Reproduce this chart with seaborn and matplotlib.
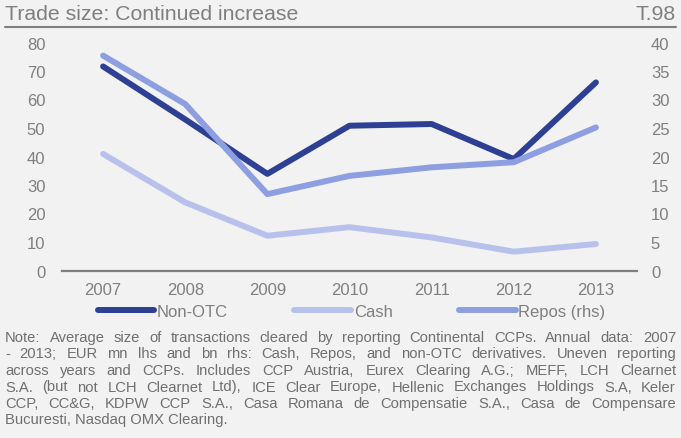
import matplotlib
matplotlib.use("Agg")
import numpy as np
import pandas as pd
import matplotlib.pyplot as plt
from matplotlib.lines import Line2D
import seaborn as sns

# ── Data ──────────────────────────────────────────────────────────────────────
years   = [2007, 2008, 2009, 2010, 2011, 2012, 2013]
non_otc = [71.6, 53.0, 33.9, 50.8, 51.4, 39.1, 66.0]   # lhs, EUR mn
cash    = [40.9, 23.9, 12.2, 15.2, 11.6, 6.6, 9.3]     # lhs, EUR mn
repos   = [37.7, 29.2, 13.4, 16.6, 18.1, 19.0, 25.1]   # rhs, EUR bn

left_ticks  = [0, 10, 20, 30, 40, 50, 60, 70, 80]
right_ticks = [0, 5, 10, 15, 20, 25, 30, 35, 40]

title_txt = "Trade size: Continued increase"
tag_txt   = "T.98"
note_lines = [
    "Note: Average size of transactions cleared  by reporting Continental CCPs. Annual data: 2007",
    "- 2013; EUR mn lhs and bn rhs: Cash, Repos, and non-OTC derivatives. Uneven reporting",
    "across years and CCPs. Includes CCP Austria, Eurex Clearing A.G.; MEFF, LCH Clearnet",
    "S.A. (but not LCH Clearnet Ltd), ICE Clear Europe, Hellenic Exchanges Holdings S.A, Keler",
    "CCP, CC&G, KDPW CCP S.A., Casa Romana de Compensatie S.A., Casa de Compensare",
    "Bucuresti, Nasdaq OMX Clearing.",
]

# ── Style ─────────────────────────────────────────────────────────────────────
BG       = "#f2f2f2"
GREY     = "#7f7f7f"
C_NONOTC = "#2e4094"
C_CASH   = "#b7c1ec"
C_REPOS  = "#8d9fe0"
LW       = 4.3
NARROW   = ["Liberation Sans Narrow", "Liberation Sans", "DejaVu Sans"]

sns.set_theme(style="white")
plt.rcParams["font.family"] = ["Liberation Sans", "DejaVu Sans"]

W, H = 681, 439
fig = plt.figure(figsize=(W / 100, H / 100), dpi=100, facecolor=BG)

# plot area in pixel terms: x 62..637, y(0)=271.5, y(80)=43.5
x0, x1, y0, y1 = 62, 637, 271.5, 43.5
ax = fig.add_axes([x0 / W, 1 - y0 / H, (x1 - x0) / W, (y0 - y1) / H])
ax.set_facecolor(BG)
ax2 = ax.twinx()

line_kw = dict(linewidth=LW, solid_capstyle="round", solid_joinstyle="round")
sns.lineplot(x=years, y=non_otc, ax=ax, color=C_NONOTC, **line_kw)
sns.lineplot(x=years, y=cash, ax=ax, color=C_CASH, **line_kw)
sns.lineplot(x=years, y=repos, ax=ax2, color=C_REPOS, **line_kw)

ax.set_xlim(years[0] - 0.5, years[-1] + 0.5)
ax.set_ylim(0, 80)
ax2.set_ylim(0, 40)
ax.set_xticks(years)
ax.set_xticklabels([str(y) for y in years])
ax.set_yticks(left_ticks)
ax2.set_yticks(right_ticks)
ax.set_xlabel(""); ax.set_ylabel(""); ax2.set_ylabel("")

ax.tick_params(axis="y", length=0, labelsize=12, labelcolor=GREY, pad=12)
ax.tick_params(axis="x", length=0, labelsize=12, labelcolor=GREY, pad=8)
ax2.tick_params(axis="y", length=0, labelsize=12, labelcolor=GREY, pad=10)

for s in ["top", "left", "right"]:
    ax.spines[s].set_visible(False)
for s in ax2.spines.values():
    s.set_visible(False)
ax.spines["bottom"].set_color(GREY)
ax.spines["bottom"].set_linewidth(1.6)
ax.grid(False); ax2.grid(False)

# ── Legend ────────────────────────────────────────────────────────────────────
handles = [
    Line2D([], [], color=C_NONOTC, **line_kw),
    Line2D([], [], color=C_CASH, **line_kw),
    Line2D([], [], color=C_REPOS, **line_kw),
]
fig.legend(handles, ["Non-OTC", "Cash", "Repos (rhs)"], ncol=3,
           loc="center", bbox_to_anchor=(351.5 / W, 1 - 312.7 / H),
           frameon=False, fontsize=12, labelcolor=GREY,
           handlelength=3.4, handletextpad=0.15, columnspacing=4.0)

# ── Title bar ─────────────────────────────────────────────────────────────────
fig.text(5 / W, 1 - 14 / H, title_txt, ha="left", va="center",
         fontsize=15.3, color=GREY, family=NARROW)
fig.text(676 / W, 1 - 14 / H, tag_txt, ha="right", va="center",
         fontsize=15.3, color=GREY, family=NARROW)
fig.add_artist(Line2D([5 / W, 676 / W], [1 - 27.5 / H, 1 - 27.5 / H],
                      transform=fig.transFigure, color=GREY, linewidth=1.5))

# ── Note (justified, words placed on a common baseline) ───────────────────────
renderer = fig.canvas.get_renderer()
nx0, nx1 = 5, 676
ny, dy = 342, 16.5
note_kw = dict(fontsize=10.6, color="#6f6f6f", va="baseline", ha="left")
for i, line in enumerate(note_lines):
    y = 1 - (ny + i * dy) / H
    if i == len(note_lines) - 1:
        fig.text(nx0 / W, y, line, **note_kw)
        continue
    words = line.split()
    objs = [fig.text(0, y, w_, **note_kw) for w_ in words]
    widths = [o.get_window_extent(renderer).width for o in objs]
    gap = (nx1 - nx0 - sum(widths)) / (len(words) - 1)
    xpos = nx0
    for o, wd in zip(objs, widths):
        o.set_x(xpos / W)
        xpos += wd + gap

fig.savefig("out.png", dpi=100, facecolor=BG)
